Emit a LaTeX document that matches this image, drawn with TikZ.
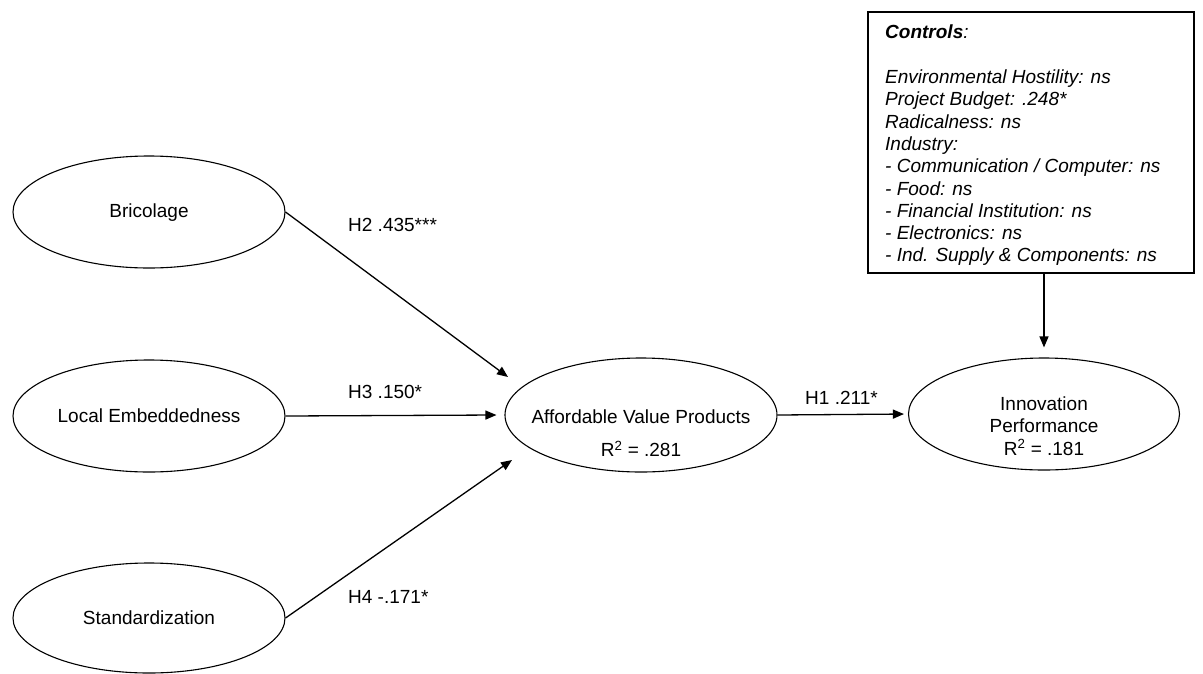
\documentclass[tikz,border=0pt]{standalone}
\usepackage{fontspec}
\setmainfont{Liberation Sans}
\usetikzlibrary{shapes.geometric,arrows.meta,calc}
\tikzset{
  lat/.style={draw=black, ellipse, line width=1.1pt, minimum width=272pt, minimum height=112pt, inner sep=0pt},
  txt/.style={inner sep=0pt, font=\fontsize{19}{22.3}\selectfont},
  lbl/.style={inner sep=0pt, anchor=west, font=\fontsize{19}{22.3}\selectfont},
  arr/.style={line width=1.3pt, -{Triangle[length=11pt,width=9pt]}},
  ctrlbox/.style={draw=black, line width=1.1pt, minimum width=326pt, minimum height=261pt, inner sep=0pt}
}
\begin{document}
\begin{tikzpicture}[x=1pt,y=-1pt]
\useasboundingbox (0,0) rectangle (1203,673);
% latent variables
\node[lat] (bric) at (149,212) {};
\node[txt] (brict) at (149,213) {Bricolage};
\node[lat] (le) at (149,416) {};
\node[txt] (let) at (149,416) {Local Embeddedness};
\node[lat, minimum height=110pt] (st) at (149,618) {};
\node[txt] (stt) at (149,618) {Standardization};
\node[lat, minimum height=114pt] (avp) at (641,415) {};
\node[txt] (avpt) at (641,417) {Affordable Value Products};
\node[txt] (avpr) at (641,449) {R\textsuperscript{2} = .281};
\node[lat, minimum width=271pt] (ip) at (1044,414) {};
\node[txt, align=center] (ipt) at (1044,426) {Innovation\\Performance\\R\textsuperscript{2} = .181};
% controls
\node[ctrlbox] (controls) at (1031,142.5) {};
\node[txt, align=left, anchor=north west] (ctrlt) at (885,25) {\textbf{\textit{Controls}}\textit{:}\\[22.3pt]
\textit{Environmental Hostility: ns}\\
\textit{Project Budget: .248*}\\
\textit{Radicalness: ns}\\
\textit{Industry:}\\
\textit{- Communication / Computer: ns}\\
\textit{- Food: ns}\\
\textit{- Financial Institution: ns}\\
\textit{- Electronics: ns}\\
\textit{- Ind. Supply \& Components: ns}};
% connectors
\draw[arr] (bric.east) -- ($(avp.center)+(-133,-38)$);
\draw[arr] (le.east) -- ($(avp.west)+(-8,0)$);
\draw[arr] (st.east) -- ($(avp.center)+(-129,45)$);
\draw[arr, shorten >=4pt] (avp.east) -- (ip.west);
\draw[arr, shorten >=10pt] (ip.north |- controls.south) -- (ip.north);
% labels
\node[lbl] (h2) at (348,225) {H2 .435***};
\node[lbl] (h3) at (348,392) {H3 .150*};
\node[lbl] (h4) at (348,597) {H4 -.171*};
\node[lbl] (h1) at (805,398) {H1 .211*};
\end{tikzpicture}
\end{document}
